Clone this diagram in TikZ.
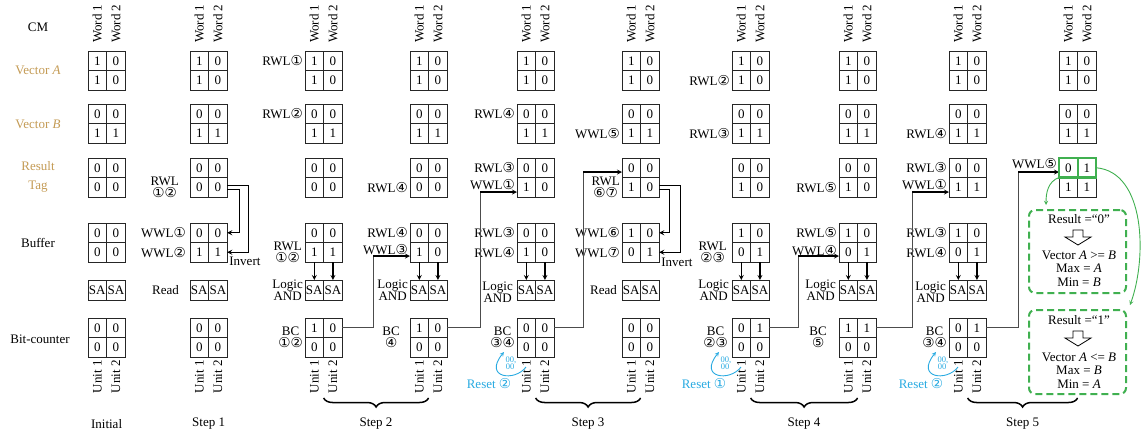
\documentclass[tikz,border=0pt]{standalone}
\usepackage{fontspec}
\setmainfont{Liberation Serif}
\newfontfamily\circfont{DejaVu Sans}[Scale=1.05]
\usetikzlibrary{arrows, positioning, calc, decorations.pathreplacing}
\definecolor{tagGold}{RGB}{196,155,85}
\definecolor{resGreen}{RGB}{64,176,80}
\definecolor{resetBlue}{RGB}{40,170,225}
\tikzstyle{cell} = [rectangle, draw=black!85, line width=1pt, minimum width=18.6pt, minimum height=19.5pt, inner sep=0pt, outer sep=0pt, text centered]
\tikzstyle{sacell} = [cell, minimum height=20pt]
\tikzstyle{rowname} = [align=center, inner sep=0pt]
\tikzstyle{lbl} = [align=center, inner sep=0pt, font=\fontsize{13}{12.5}\selectfont]
\tikzstyle{vlbl} = [rotate=90, inner sep=0pt]
\tikzstyle{arrow} = [line width=1.2pt, ->, >=stealth]
\tikzstyle{link} = [line width=0.9pt, draw=black!70]
\tikzstyle{brace} = [decorate, decoration={brace, mirror, amplitude=9pt}, line width=1.5pt]
\tikzstyle{resbox} = [rectangle, draw=resGreen, line width=2pt, dash pattern=on 7pt off 4pt, rounded corners=6pt, minimum width=97pt]
\tikzstyle{hilite} = [draw=resGreen, line width=2.2pt]
\tikzstyle{greenarrow} = [draw=resGreen, line width=0.9pt, ->, >=stealth]
\tikzstyle{resetarrow} = [draw=resetBlue, line width=0.9pt, ->, >=stealth]
\tikzstyle{tinyzero} = [text=resetBlue, inner sep=0pt, font=\fontsize{8.5}{8.5}\selectfont]
\tikzstyle{resetlbl} = [text=resetBlue, inner sep=0pt]
\tikzstyle{hollow} = [draw=black, line width=0.8pt, fill=white]
\tikzstyle{boxtext} = [inner sep=0pt]

\newcommand{\encl}[1]{{\circfont #1}}
% 2x2 block of memory cells
\newcommand{\cellgrid}[7]{%
  \node (#1-11) [cell, anchor=north west] at (#2,#3) {#4};
  \node (#1-12) [cell, right=0pt of #1-11] {#5};
  \node (#1-21) [cell, below=0pt of #1-11] {#6};
  \node (#1-22) [cell, right=0pt of #1-21] {#7};
}
% blue reset loop under a bit-counter label
\newcommand{\resetmark}[3]{%
  \draw[resetarrow] (#2+9,367) .. controls (#2-2,382) and (#2-34,378) .. (#2-13,352);
  \node (#1a) [tinyzero] at (#2-6,360) {00,};
  \node (#1b) [tinyzero] at (#2-7,367) {00};
  \node (#1) [resetlbl] at (#2-28,384) {Reset \encl{#3}};
}

\begin{document}
\begin{tikzpicture}[x=1pt, y=-1pt, font=\fontsize{13}{15}\selectfont]
\useasboundingbox (0,0) rectangle (1144,440);

% Row names
\node (cm) [rowname] at (38,27) {CM};
\node (veca) [rowname, text=tagGold] at (38,70) {Vector \textit{A}};
\node (vecb) [rowname, text=tagGold] at (38,124) {Vector \textit{B}};
\node (rtag) [rowname, text=tagGold] at (38,176.5) {Result\\[4pt]Tag};
\node (buff) [rowname] at (38,243) {Buffer};
\node (bitc) [rowname] at (40,339) {Bit-counter};

% Word headers, vectors A and B
\foreach \col/\x in {0/88,1/190,2/305,3/410,4/517,5/622,6/732,7/839,8/949,9/1059} {
  \node (w\col-1) [vlbl, anchor=west] at (\x+9.3,43) {Word 1};
  \node (w\col-2) [vlbl, anchor=west] at (\x+27.9,43) {Word 2};
  \cellgrid{a\col}{\x}{51}{1}{0}{1}{0}
  \cellgrid{b\col}{\x}{104}{0}{0}{1}{1}
}

% Result tag
\foreach \col/\x/\va/\vb/\vc/\vd in {0/88/0/0/0/0, 1/190/0/0/0/0, 2/305/0/0/0/0, 3/410/0/0/0/0, 4/517/0/0/1/0, 5/622/0/0/1/0, 6/732/0/0/1/0, 7/839/0/0/1/0, 8/949/0/0/1/1, 9/1059/0/1/1/1} {
  \cellgrid{r\col}{\x}{158}{\va}{\vb}{\vc}{\vd}
}

% Buffer
\foreach \col/\x/\va/\vb/\vc/\vd in {0/88/0/0/0/0, 1/190/0/0/1/1, 2/305/0/0/1/1, 3/410/0/0/1/0, 4/517/0/0/1/0, 5/622/1/0/0/1, 6/732/1/0/0/1, 7/839/1/0/0/1, 8/949/1/0/0/1} {
  \cellgrid{buf\col}{\x}{223}{\va}{\vb}{\vc}{\vd}
}

% Sense amplifiers
\foreach \col/\x in {0/88,1/190,2/305,3/410,4/517,5/622,6/732,7/839,8/949} {
  \node (sa\col-1) [sacell, anchor=north west] at (\x,280) {SA};
  \node (sa\col-2) [sacell, right=0pt of sa\col-1] {SA};
  \node (u\col-1) [vlbl, anchor=east] at (\x+9.3,360) {Unit 1};
  \node (u\col-2) [vlbl, anchor=east] at (\x+27.9,360) {Unit 2};
}

% Bit-counter
\foreach \col/\x/\va/\vb/\vc/\vd in {0/88/0/0/0/0, 1/190/0/0/0/0, 2/305/1/0/0/0, 3/410/1/0/0/0, 4/517/0/0/0/0, 5/622/0/0/0/0, 6/732/0/1/0/0, 7/839/1/1/0/0, 8/949/0/1/0/0} {
  \cellgrid{bc\col}{\x}{318}{\va}{\vb}{\vc}{\vd}
}

% Buffer to SA
\foreach \col in {2,3,4,6,7,8} {
  \draw[arrow] (buf\col-21.south) -- (sa\col-1.north);
  \draw[arrow] (buf\col-22.south) -- (sa\col-2.north);
}

% Step 1
\node (l1r) [lbl, left=11pt of r1-21] {RWL\\\encl{①②}};
\node (l1f1) [lbl, left=4pt of buf1-11] {WWL\encl{①}};
\node (l1f2) [lbl, left=4pt of buf1-21] {WWL\encl{②}};
\node (l1s) [lbl, left=11pt of sa1-1] {Read};
\draw[arrow] ($(r1-22.east)+(0,-2)$) -- ++(21,0) |- (buf1-22.east);
\draw[arrow] ($(r1-22.east)+(0,2)$) -- ++(12,0) |- (buf1-12.east);
\node (inv1) [lbl, anchor=west, xshift=2pt, yshift=1pt] at (buf1-22.south east) {Invert};

% Step 2
\node (l2a) [lbl, left=2pt of a2-11] {RWL\encl{①}};
\node (l2b) [lbl, left=2pt of b2-11] {RWL\encl{②}};
\node (l2f) [lbl, left=3pt of buf2-21] {RWL\\\encl{①②}};
\node (l2s) [lbl, left=2pt of sa2-1] {Logic\\AND};
\node (l2c) [lbl, left=2pt of bc2-11.south west] {BC\\\encl{①②}};
\node (l3r) [lbl, left=2pt of r3-21] {RWL\encl{④}};
\node (l3f1) [lbl, left=2pt of buf3-11] {RWL\encl{④}};
\node (l3f2) [lbl, left=2pt of buf3-21, yshift=3pt] {WWL\encl{③}};
\node (l3s) [lbl, left=2pt of sa3-1] {Logic\\AND};
\node (l3c) [lbl, left=10pt of bc3-11.south west] {BC\\\encl{④}};

% Step 3
\node (l4b) [lbl, left=2pt of b4-11] {RWL\encl{④}};
\node (l4r1) [lbl, left=2pt of r4-11] {RWL\encl{③}};
\node (l4r2) [lbl, left=2pt of r4-21, yshift=3pt] {WWL\encl{①}};
\node (l4f1) [lbl, left=2pt of buf4-11] {RWL\encl{③}};
\node (l4f2) [lbl, left=2pt of buf4-21] {RWL\encl{④}};
\node (l4s) [lbl, left=4pt of sa4-1, yshift=-2pt] {Logic\\AND};
\node (l4c) [lbl, left=2pt of bc4-11.south west] {BC\\\encl{③④}};
\resetmark{rs4}{517}{②}
\node (l5b) [lbl, left=2pt of b5-21] {WWL\encl{⑤}};
\node (l5r) [lbl, left=2pt of r5-21] {RWL\\\encl{⑥⑦}};
\node (l5f1) [lbl, left=2pt of buf5-11] {WWL\encl{⑥}};
\node (l5f2) [lbl, left=2pt of buf5-21] {WWL\encl{⑦}};
\node (l5s) [lbl, left=5pt of sa5-1] {Read};
\draw[arrow] ($(r5-22.east)+(0,-2)$) -- ++(21,0) |- (buf5-22.east);
\draw[arrow] ($(r5-22.east)+(0,2)$) -- ++(10,0) |- (buf5-12.east);
\node (inv5) [lbl, anchor=west, xshift=2pt, yshift=0pt] at (buf5-22.south east) {Invert};

% Step 4
\node (l6a) [lbl, left=2pt of a6-21] {RWL\encl{②}};
\node (l6b) [lbl, left=2pt of b6-21] {RWL\encl{③}};
\node (l6f) [lbl, left=5pt of buf6-21] {RWL\\\encl{②③}};
\node (l6s) [lbl, left=3pt of sa6-1] {Logic\\AND};
\node (l6c) [lbl, left=4pt of bc6-11.south west] {BC\\\encl{②③}};
\resetmark{rs6}{732}{①}
\node (l7r) [lbl, left=2pt of r7-21] {RWL\encl{⑤}};
\node (l7f1) [lbl, left=2pt of buf7-11] {RWL\encl{⑤}};
\node (l7f2) [lbl, left=2pt of buf7-21, yshift=2pt] {WWL\encl{④}};
\node (l7s) [lbl, left=3pt of sa7-1] {Logic\\AND};
\node (l7c) [lbl, left=12pt of bc7-11.south west] {BC\\\encl{⑤}};

% Step 5
\node (l8b) [lbl, left=2pt of b8-21] {RWL\encl{④}};
\node (l8r1) [lbl, left=2pt of r8-11] {RWL\encl{③}};
\node (l8r2) [lbl, left=2pt of r8-21, yshift=3pt] {WWL\encl{①}};
\node (l8f1) [lbl, left=2pt of buf8-11] {RWL\encl{③}};
\node (l8f2) [lbl, left=2pt of buf8-21] {RWL\encl{④}};
\node (l8s) [lbl, left=3pt of sa8-1, yshift=-2pt] {Logic\\AND};
\node (l8c) [lbl, left=2pt of bc8-11.south west] {BC\\\encl{③④}};
\resetmark{rs8}{949}{②}
\node (l9r) [lbl, left=2pt of r9-11, yshift=4pt] {WWL\encl{⑤}};

% Bit-counter write back
\coordinate (k2) at (373,256);
\coordinate (k3) at (480,192);
\coordinate (k4) at (583,172);
\coordinate (k6) at (798,256);
\coordinate (k7) at (912,192);
\coordinate (k8) at (1018,172);
\draw[link] (bc2-12.east) -| (k2);
\draw[arrow] (k2) -- (k2 -| buf3-21.west);
\draw[link] (bc3-12.east) -| (k3);
\draw[arrow] (k3) -- (k3 -| r4-21.west);
\draw[link] (bc4-12.east) -| (k4);
\draw[arrow] (k4) -- (k4 -| r5-11.west);
\draw[link] (bc6-12.east) -| (k6);
\draw[arrow] (k6) -- (k6 -| buf7-21.west);
\draw[link] (bc7-12.east) -| (k7);
\draw[arrow] (k7) -- (k7 -| r8-21.west);
\draw[link] (bc8-12.east) -| (k8);
\draw[arrow] (k8) -- (k8 -| r9-11.west);

% Result check
\draw[hilite] (r9-11.north west) rectangle (r9-11.south east);
\draw[hilite] (r9-12.north west) rectangle (r9-12.south east);
\node (box1) [resbox, minimum height=83pt] at (1077.5,251.5) {};
\node (box2) [resbox, minimum height=84pt] at (1077.5,352) {};
\node (t1a) [boxtext] at (1079,219) {Result =“0”};
\draw[hollow] (1073,230) -- (1083,230) -- (1083,237) -- (1091,237) -- (1078,245) -- (1065,237) -- (1073,237) -- cycle;
\node (t1b) [boxtext] at (1079,255) {Vector \textit{A} >= \textit{B}};
\node (t1c) [boxtext] at (1079,268.5) {Max = \textit{A}};
\node (t1d) [boxtext] at (1079,282) {Min = \textit{B}};
\node (t2a) [boxtext] at (1079,320) {Result =“1”};
\draw[hollow] (1073,331) -- (1083,331) -- (1083,338) -- (1091,338) -- (1078,346) -- (1065,338) -- (1073,338) -- cycle;
\node (t2b) [boxtext] at (1079,357) {Vector \textit{A} <= \textit{B}};
\node (t2c) [boxtext] at (1079,370.5) {Max = \textit{B}};
\node (t2d) [boxtext] at (1079,384) {Min = \textit{A}};
\draw[greenarrow] (r9-11.south west) to[out=200, in=90] ($(box1.north west)+(18,-4)$);
\draw[greenarrow] (r9-12.east) to[out=-5, in=70, looseness=0.9] ($(box2.north east)+(3,-4)$);

% Steps
\draw[brace] (323.6,398) -- (428.6,398);
\draw[brace] (535.6,398) -- (640.6,398);
\draw[brace] (750.6,398) -- (857.6,398);
\draw[brace] (967.6,398) -- (1077.6,398);
\node (st0) at (106.6,424) {Initial};
\node (st1) at (208.6,424) {Step 1};
\node (st2) at (376,424) {Step 2};
\node (st3) at (588,424) {Step 3};
\node (st4) at (804,424) {Step 4};
\node (st5) at (1022.6,424) {Step 5};

\end{tikzpicture}
\end{document}
